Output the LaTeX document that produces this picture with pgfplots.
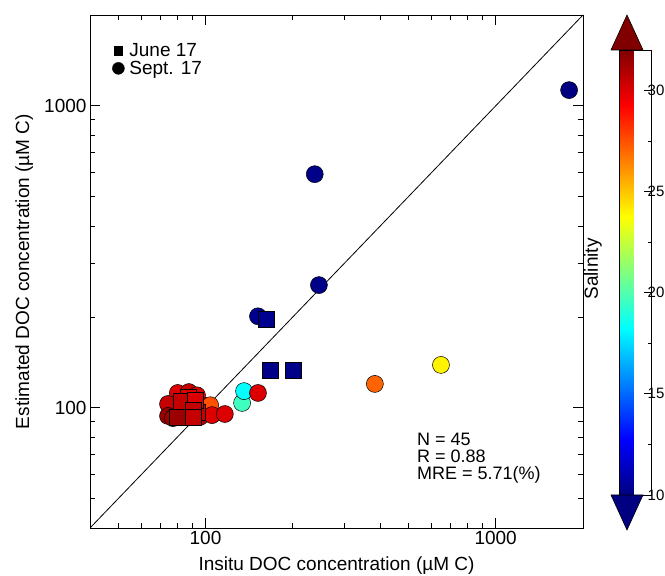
\documentclass[border=0pt]{standalone}
\usepackage{fontspec}
\setmainfont{Liberation Sans}
\usepackage{pgfplots}
\pgfplotsset{compat=1.18}
\pgfplotsset{/pgf/number format/assume math mode=true,
  mylegimg/.style={legend image code/.code={\draw[##1] plot coordinates {(0pt,0pt)};}}}
\newcommand\lf{\fontsize{19}{22}\selectfont}
\newcommand\smf{\fontsize{15}{18}\selectfont}
\newcommand\stf{\fontsize{18}{20}\selectfont}
\definecolor{jetdr}{rgb}{0.5,0,0}
\definecolor{jetdb}{rgb}{0,0,0.5}

\pgfplotstableread{
x y s
83.6 102 30.5
88.5 106 30
85.7 96.8 31
92.1 101.4 30
80.3 98.4 31
98 102 30.5
89.9 95.4 31
81.7 107.6 30
84.9 109.4 30
93.5 104.5 30.5
78.5 103 30.5
80.3 112 30
87.7 112.8 30.5
93.5 110 30
74.3 103 30.5
74.3 94 31.5
77.3 92.5 31.3
95.7 97.6 30.5
95.7 93.3 31
101.2 99 25.5
103.8 102 27.5
105.3 94.6 30
116.6 95.4 30
1791 1128 10
238 594 10.2
246 255 10.2
151.7 201 10.3
648 138.7 24
383.5 120 27.1
133.7 103.8 19.6
135.8 113.6 18.3
151.7 112 30
}\sept

\pgfplotstableread{
x y s
161.4 196.8 10.3
166.7 133.4 10.2
200.3 133.4 10.2
84.9 103.8 30.5
87.1 108.6 30
84.3 98.4 31
93.5 96.8 30.5
85.7 102 30.5
82.4 105.4 30.5
92.1 106.2 30
90.6 98.5 30.5
79.8 93.3 31.4
90.6 93.3 30.5
}\june

\begin{document}
\begin{tikzpicture}
\useasboundingbox (0pt,0pt) rectangle (665pt,576pt);
\begin{axis}[
  at={(90pt,48pt)}, anchor=south west,
  scale only axis, width=493pt, height=513pt,
  xmode=log, ymode=log,
  xmin=40, xmax=2000, ymin=40, ymax=2000,
  xtick={100,1000}, ytick={100,1000},
  xticklabels={100,1000}, yticklabels={100,1000},
  minor xtick={50,60,70,80,90,200,300,400,500,600,700,800,900},
  minor ytick={50,60,70,80,90,200,300,400,500,600,700,800,900},
  tick align=inside, major tick length=10pt, minor tick length=5pt,
  axis line style={line width=0.9pt},
  every tick/.style={black, line width=0.8pt},
  tick label style={font=\lf},
  xlabel={Insitu DOC concentration (µM C)},
  ylabel={Estimated DOC concentration (µM C)},
  every axis x label/.style={at={(axis description cs:0.5,-0.0838)}, anchor=base, font=\lf},
  every axis y label/.style={at={(axis description cs:-0.1237,0.5)}, rotate=90, anchor=base, font=\lf},
  colormap/jet, point meta min=10, point meta max=32,
  colorbar,
  colorbar style={
    at={(parent axis.north east)}, anchor=north west,
    xshift=28pt, yshift=-35pt,
    scale only axis, width=32pt, height=445pt,
    ytick={10,15,20,25,30}, minor ytick={12.5,17.5,22.5,27.5},
    ytick pos=right, yticklabel pos=right,
    tick align=inside, major tick length=8pt, minor tick length=3.5pt,
    axis line style={line width=0.8pt},
    every tick/.style={black, line width=0.8pt},
    yticklabel style={font=\smf, inner sep=0pt, xshift=-4pt},
  },
  legend style={at={(axis description cs:0.045,0.947)}, anchor=north west,
    draw=none, fill=none, inner sep=0pt, font=\lf, row sep=1pt,
    nodes={inner sep=1pt},
    /tikz/every odd column/.append style={column sep=4pt}},
  legend cell align=left,
]
\addplot[black, line width=0.8pt, forget plot] coordinates {(40,40) (2000,2000)};
\addplot[scatter, only marks, mark=*, mark size=8.5pt, line width=0.5pt,
  scatter/use mapped color={draw=black, fill=mapped color},
  point meta=explicit, forget plot] table[x=x, y=y, meta=s] {\sept};
\addplot[scatter, only marks, mark=square*, mark size=8pt, line width=0.5pt,
  scatter/use mapped color={draw=black, fill=mapped color},
  point meta=explicit, forget plot] table[x=x, y=y, meta=s] {\june};
\addlegendimage{only marks, mark=square*, mark size=4.3pt, black, mylegimg}
\addlegendentry{June 17}
\addlegendimage{only marks, mark=*, mark size=6pt, black, mylegimg}
\addlegendentry{Sept. 17}
\end{axis}
\fill[jetdr, draw=black, line width=0.6pt] (611pt,526pt) -- (643pt,526pt) -- (627pt,561pt) -- cycle;
\fill[jetdb, draw=black, line width=0.6pt] (611pt,81pt) -- (643pt,81pt) -- (627pt,46pt) -- cycle;
\node[rotate=90, font=\lf] at (593pt,307pt) {Salinity};
\node[anchor=base west, font=\stf, inner sep=0pt] at (417pt,130pt) {N = 45};
\node[anchor=base west, font=\stf, inner sep=0pt] at (417pt,113pt) {R = 0.88};
\node[anchor=base west, font=\stf, inner sep=0pt] at (417pt,96pt) {MRE = 5.71(\%)};
\end{tikzpicture}
\end{document}
